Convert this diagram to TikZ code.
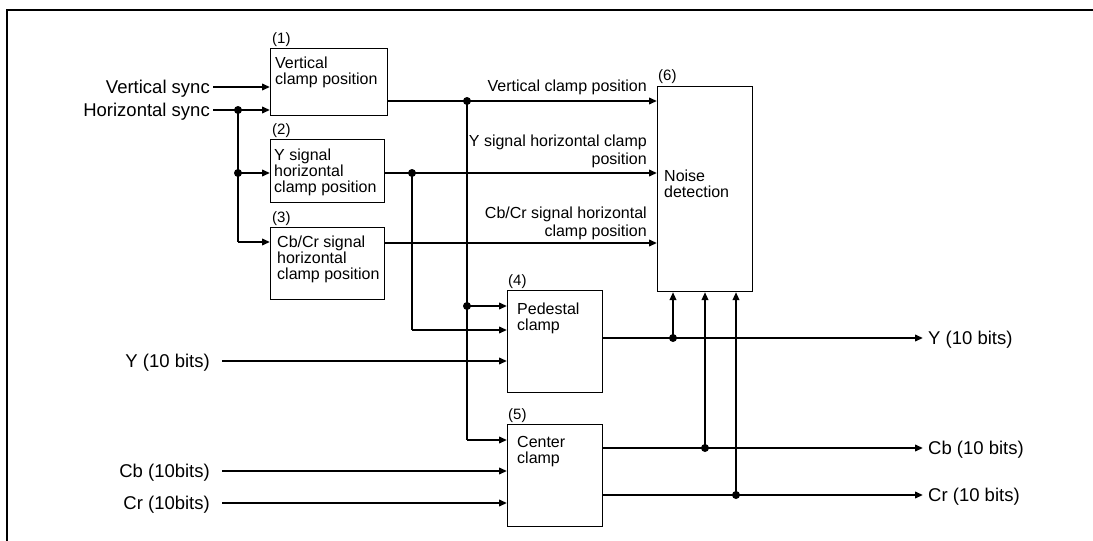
\documentclass[tikz,border=0pt]{standalone}
\usepackage{fontspec}
\setsansfont{Liberation Sans}
\usetikzlibrary{arrows.meta,positioning}
\tikzset{blk/.style={draw,line width=1.1pt,anchor=north west,inner sep=0pt},blktext/.style={anchor=north west,inner sep=0pt,align=left,font=\sffamily\fontsize{16}{16}\selectfont},num/.style={inner sep=0pt,font=\sffamily\fontsize{15}{15}\selectfont},io/.style={inner ysep=0pt,text height=13pt,text depth=0pt,font=\sffamily\fontsize{18.5}{18.5}\selectfont},sigtext/.style={inner sep=0pt,align=right,anchor=south east,font=\sffamily\fontsize{16}{17.5}\selectfont},sig/.style={-{Triangle[length=8pt,width=6.5pt]},line width=2pt},wire/.style={line width=1.4pt}}
\begin{document}
\begin{tikzpicture}[x=1pt,y=-1pt]
\useasboundingbox (0,0) rectangle (1093,541);
\draw[line width=2pt] (7,541) -- (7,10) -- (1093,10);
% blocks
\node[blk,minimum width=117pt,minimum height=67pt] (pos1) at (270,48) {};
\node[blk,minimum width=114pt,minimum height=63pt] (pos2) at (270,139) {};
\node[blk,minimum width=114pt,minimum height=72pt] (pos3) at (270,227) {};
\node[blk,minimum width=95pt,minimum height=102pt] (pos4) at (507,290) {};
\node[blk,minimum width=95pt,minimum height=102pt] (pos5) at (507,424) {};
\node[blk,minimum width=95pt,minimum height=205pt] (pos6) at (657,86) {};
\node[blktext,below right=9pt and 5pt of pos1.north west] {Vertical\\clamp position};
\node[blktext,below right=10pt and 4pt of pos2.north west] {Y signal\\horizontal\\clamp position};
\node[blktext,below right=9pt and 7pt of pos3.north west] {Cb/Cr signal\\horizontal\\clamp position};
\node[blktext,below right=13pt and 10pt of pos4.north west] {Pedestal\\clamp};
\node[blktext,below right=12pt and 10pt of pos5.north west] {Center\\clamp};
\node[blktext,below right=84pt and 7pt of pos6.north west] {Noise\\detection};
\node[num,above right=1pt and 2pt of pos1.north west] {(1)};
\node[num,above right=1pt and 2pt of pos2.north west] {(2)};
\node[num,above right=1pt and 2pt of pos3.north west] {(3)};
\node[num,above right=1pt and 1pt of pos4.north west] {(4)};
\node[num,above right=1pt and 1pt of pos5.north west] {(5)};
\node[num,above right=2pt and 1pt of pos6.north west] {(6)};
% inputs and outputs
\node[io,inner xsep=3pt,anchor=east] (vsync) at (213,87) {Vertical sync};
\node[io,inner xsep=3pt,anchor=east] (hsync) at (213,110) {Horizontal sync};
\node[io,inner xsep=12pt,anchor=east] (yin) at (222,361) {Y (10 bits)};
\node[io,inner xsep=12pt,anchor=east] (cbin) at (222,471) {Cb (10bits)};
\node[io,inner xsep=12pt,anchor=east] (crin) at (222,503) {Cr (10bits)};
\node[io,inner xsep=5pt,anchor=west] (yout) at (923,338) {Y (10 bits)};
\node[io,inner xsep=5pt,anchor=west] (cbout) at (923,448) {Cb (10 bits)};
\node[io,inner xsep=5pt,anchor=west] (crout) at (923,495) {Cr (10 bits)};
\node[sigtext] at (647,95) {Vertical clamp position};
\node[sigtext] at (647,168) {Y signal horizontal clamp\\position};
\node[sigtext] at (647,240) {Cb/Cr signal horizontal\\clamp position};
% junctions
\coordinate (hj1) at (238,110);\coordinate (hj2) at (238,173);\coordinate (hc) at (238,242);
\coordinate (o1) at (387,101);\coordinate (vj1) at (467,101);\coordinate (vj2) at (467,306);\coordinate (vc) at (467,440);
\coordinate (o2) at (384,173);\coordinate (yj1) at (412,173);\coordinate (yc) at (412,330);
\coordinate (o3) at (384,243);
\coordinate (o4) at (602,338);\coordinate (dj1) at (673,338);
\coordinate (o5a) at (602,448);\coordinate (dj2) at (705,448);
\coordinate (o5b) at (602,495);\coordinate (dj3) at (736,495);
% connectors
\draw[sig] (vsync.east) -- (vsync.east -| pos1.west);\draw[sig] (hsync.east) -- (hsync.east -| pos1.west);
\draw[wire] (hj1) -- (hc);\draw[sig] (hj2) -- (hj2 -| pos2.west);\draw[sig] (hc) -- (hc -| pos3.west);
\draw[sig] (o1) -- (o1 -| pos6.west);\draw[sig] (o2) -- (o2 -| pos6.west);\draw[sig] (o3) -- (o3 -| pos6.west);
\draw[wire] (vj1) -- (vc);\draw[sig] (vj2) -- (vj2 -| pos4.west);\draw[sig] (vc) -- (vc -| pos5.west);
\draw[wire] (yj1) -- (yc);\draw[sig] (yc) -- (yc -| pos4.west);
\draw[sig] (yin.east) -- (yin.east -| pos4.west);
\draw[sig] (cbin.east) -- (cbin.east -| pos5.west);\draw[sig] (crin.east) -- (crin.east -| pos5.west);
\draw[sig] (o4) -- (yout.west);\draw[sig] (o5a) -- (cbout.west);\draw[sig] (o5b) -- (crout.west);
\draw[sig] (dj1) -- (dj1 |- pos6.south);\draw[sig] (dj2) -- (dj2 |- pos6.south);\draw[sig] (dj3) -- (dj3 |- pos6.south);
\foreach \j in {hj1,hj2,vj1,vj2,yj1,dj1,dj2,dj3} \fill (\j) circle (4pt);
\end{tikzpicture}
\end{document}
